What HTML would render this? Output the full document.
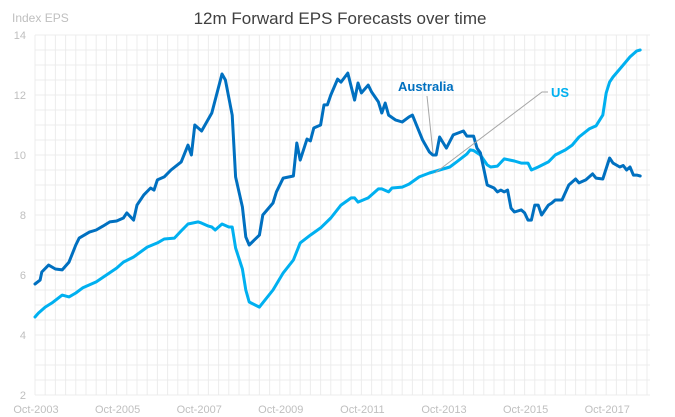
<!DOCTYPE html>
<html><head><meta charset="utf-8"><style>
html,body{margin:0;padding:0;background:#fff;}
svg{display:block;font-family:"Liberation Sans",sans-serif;}
</style></head><body>
<svg id="chart" width="675" height="417" xmlns="http://www.w3.org/2000/svg">
<text x="340" y="24" text-anchor="middle" font-size="17" fill="#404040">12m Forward EPS Forecasts over time</text>
<text x="12" y="22" font-size="12" fill="#bfbfbf">Index EPS</text>
<g id="grid"></g>
<g id="ticks"></g>
<g id="series"></g>
<g>
<line x1="427" y1="96" x2="433" y2="153" stroke="#a6a6a6" stroke-width="1"/>
<text x="398" y="91" font-size="13" font-weight="bold" fill="#0070c0">Australia</text>
<polyline points="548,92 542,92 435,173" fill="none" stroke="#a6a6a6" stroke-width="1"/>
<text x="551" y="97" font-size="13" font-weight="bold" fill="#00b0f0">US</text>
</g>
</svg>
<script>
const yTicks = [2,4,6,8,10,12,14];
const xTickLabels = ["Oct-2003","Oct-2005","Oct-2007","Oct-2009","Oct-2011","Oct-2013","Oct-2015","Oct-2017"];
const xTickMonths = [0,24,48,72,96,120,144,168];
const ausMonths = [0,1.5,2,4,6,8,10,12,13,16,18,20,22,24,26,27,29,30,32,34,35,36,38,40,43,45,46,47,49,52,55,56,58,59,61,62,63,66,67,70,71,73,76,77,78,80,81,82,84,85,86,87,89,90,92,94,95,96,98,99,101,102,103,104,106,108,110,111,114,116,117,118,119,121,123,126,127,129,130,131,133,135,136,137,138,139,140,141,143,144,145,146,147,148,149,151,152,153,155,157,159,160,162,164,165,167,169,170,172,173,174,175,176,177,178];
const ausValues = [5.7,5.83,6.1,6.33,6.2,6.17,6.43,7.0,7.23,7.43,7.5,7.63,7.77,7.8,7.9,8.07,7.83,8.33,8.67,8.9,8.83,9.17,9.27,9.5,9.77,10.33,10.0,11.0,10.8,11.4,12.7,12.5,11.33,9.27,8.27,7.27,7.0,7.33,8.0,8.4,8.77,9.23,9.3,10.4,9.83,10.53,10.47,10.9,11.0,11.67,11.67,12.0,12.53,12.43,12.73,11.83,12.4,12.07,12.33,12.1,11.77,11.4,11.73,11.33,11.17,11.1,11.27,11.33,10.5,10.1,10.0,10.0,10.6,10.23,10.67,10.8,10.63,10.63,10.23,10.07,9.0,8.9,8.77,8.83,8.77,8.83,8.23,8.1,8.17,8.07,7.83,7.83,8.33,8.33,8.0,8.33,8.4,8.5,8.5,9.0,9.2,9.07,9.17,9.37,9.23,9.2,9.9,9.73,9.6,9.65,9.5,9.6,9.33,9.33,9.3];
const usMonths = [0,1,3,5,8,10,12,14,18,21,24,26,29,33,36,38,41,43,45,48,49,51,52,53,55,57,58,59,61,62,63,66,70,73,76,78,81,84,87,90,93,94,95,98,99,101,102,104,105,108,110,113,116,119,122,124,127,128,129,131,133,134,136,138,141,143,145,146,148,151,153,156,158,160,163,165,167,168,169,170,173,175,177,178];
const usValues = [4.6,4.73,4.93,5.07,5.33,5.27,5.4,5.57,5.77,6.0,6.23,6.43,6.6,6.93,7.07,7.2,7.23,7.47,7.7,7.77,7.73,7.63,7.6,7.5,7.7,7.6,7.6,6.9,6.2,5.5,5.1,4.93,5.5,6.07,6.5,7.07,7.33,7.57,7.9,8.33,8.57,8.57,8.43,8.57,8.67,8.87,8.87,8.77,8.9,8.93,9.03,9.27,9.4,9.5,9.6,9.77,10.03,10.17,10.15,10.0,9.67,9.6,9.63,9.87,9.8,9.73,9.73,9.5,9.6,9.77,10.0,10.17,10.33,10.6,10.87,10.97,11.33,12.07,12.43,12.6,13.0,13.27,13.47,13.5];

const NS = "http://www.w3.org/2000/svg";
const X0 = 35, XR = 650, PXM = 3.4, YTOP = 35, YBOT = 395, VMIN = 2, VMAX = 14;
function xs(m){ return X0 + m * PXM; }
function ys(v){ return YBOT - (v - VMIN) / (VMAX - VMIN) * (YBOT - YTOP); }
function mk(tag, attrs, parent){ const e = document.createElementNS(NS, tag); for (const k in attrs) e.setAttribute(k, attrs[k]); parent.appendChild(e); return e; }

const grid = document.getElementById('grid');
for (let v = VMIN; v <= VMAX + 0.001; v += 0.5) {
  const l = mk('line', {x1: X0, x2: XR, y1: ys(v), y2: ys(v), stroke: '#ececec', 'stroke-width': 1}, grid);
  
  
}
for (let m = 0; xs(m) <= XR + 0.5; m += 3) {
  const l = mk('line', {x1: xs(m), x2: xs(m), y1: YTOP, y2: YBOT, stroke: '#ececec', 'stroke-width': 1}, grid);
  
  
}
const ticks = document.getElementById('ticks');
yTicks.forEach(v => {
  const t = mk('text', {x: 26, y: ys(v) + 4, 'text-anchor': 'end', 'font-size': 11, fill: '#bfbfbf'}, ticks);
  t.textContent = v;
  
  
});
xTickLabels.forEach((s, i) => {
  const t = mk('text', {x: xs(xTickMonths[i]) + 1, y: 413, 'text-anchor': 'middle', 'font-size': 11, fill: '#bfbfbf'}, ticks);
  t.textContent = s;
  
  
});
const series = document.getElementById('series');
function drawLine(ms, vs, color, name){
  const pts = ms.map((m, i) => xs(m).toFixed(1) + ',' + ys(vs[i]).toFixed(1)).join(' ');
  const p = mk('polyline', {points: pts, fill: 'none', stroke: color, 'stroke-width': 3, 'stroke-linejoin': 'round', 'stroke-linecap': 'round'}, series);
  
  
}
drawLine(usMonths, usValues, '#00b0f0', 'us-line');
drawLine(ausMonths, ausValues, '#0070c0', 'australia-line');
</script>
</body></html>
